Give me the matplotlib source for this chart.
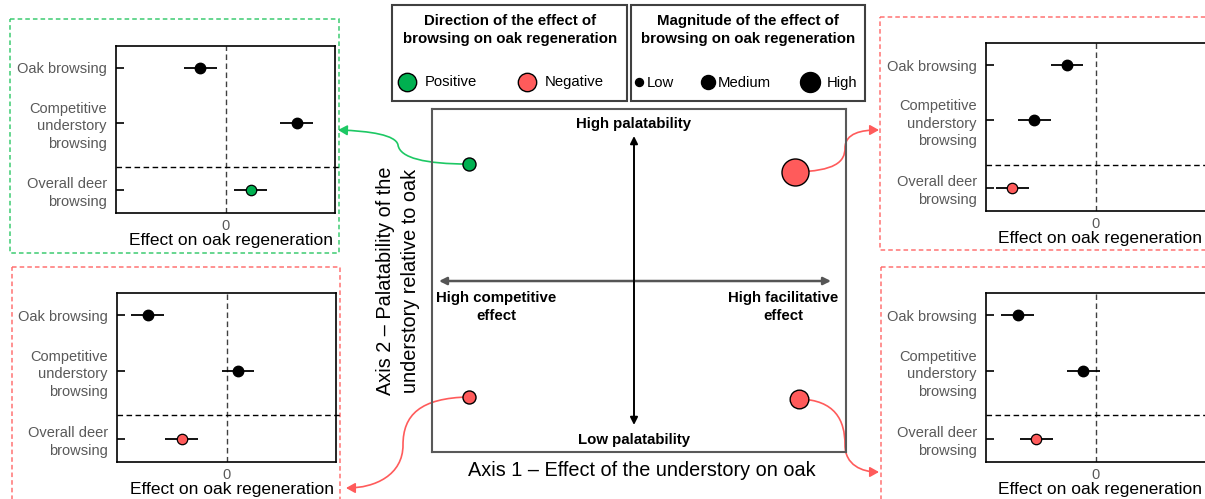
import matplotlib.pyplot as plt
from matplotlib.patches import Rectangle, FancyArrowPatch
from matplotlib.path import Path

plt.rcParams['font.family'] = ['Liberation Sans', 'DejaVu Sans']

# ---- data ----
row_labels = ['Oak browsing', 'Competitive\nunderstory\nbrowsing', 'Overall deer\nbrowsing']
ci_half = [0.15, 0.15, 0.15]

# effect on oak regeneration (x), one panel per quadrant
tl_effects = [-0.23, 0.65, 0.23]
tr_effects = [-0.26, -0.56, -0.76]
bl_effects = [-0.72, 0.105, -0.41]
br_effects = [-0.71, -0.11, -0.54]

# quadrant positions in the conceptual diagram
quad_x = [-0.825, 0.805, -0.825, 0.825]
quad_y = [0.688, 0.641, -0.682, -0.694]
quad_direction = ['Positive', 'Negative', 'Negative', 'Negative']
quad_magnitude = ['Low', 'High', 'Low', 'Medium']

directions = ['Positive', 'Negative']
magnitudes = ['Low', 'Medium', 'High']

# ---- styles ----
dir_colors = {'Positive': '#00B050', 'Negative': '#FF5B5B'}
line_colors = {'Positive': '#1DC864', 'Negative': '#FF5B5B'}
dash_colors = {'Positive': '#3DCC72', 'Negative': '#FF7373'}
center_sizes = {'Low': 88, 'Medium': 181, 'High': 378}
legend_sizes = {'Low': 33, 'Medium': 102, 'High': 207}
gray_txt = '#595959'

W, H = 1205, 499


def px_rect(x0, y0, x1, y1):
    return [x0 / W, 1 - y1 / H, (x1 - x0) / W, (y1 - y0) / H]


fig = plt.figure(figsize=(W / 100, H / 100), dpi=100)

overlay = fig.add_axes([0, 0, 1, 1], zorder=0)
overlay.set_xlim(0, W)
overlay.set_ylim(H, 0)
overlay.axis('off')

row_pos = [0, 1, 2.22]
sep_pos = 1.8


def forest_panel(rect, effects, color, xlim, label_x, sep_xmax):
    ax = fig.add_axes(px_rect(*rect), zorder=2)
    ax.set_facecolor('none')
    ax.errorbar(effects[:2], row_pos[:2], xerr=ci_half[:2], fmt='o', color='black',
                ms=7.5, elinewidth=1.3, capsize=0, zorder=3)
    ax.errorbar(effects[2:], row_pos[2:], xerr=ci_half[2:], fmt='o', mfc=color, mec='black',
                mew=0.9, ecolor='black', ms=7.5, elinewidth=1.3, capsize=0, zorder=3)
    ax.axvline(0, color='#404040', lw=1, ls=(0, (4, 2.5)), zorder=1)
    ax.axhline(sep_pos, xmax=sep_xmax, color='black', lw=1, ls=(0, (4, 2.5)),
               clip_on=False, zorder=1)
    ax.set_xlim(*xlim)
    ax.set_ylim(2.64, -0.4)
    ax.set_yticks(row_pos, labels=row_labels)
    ax.set_xticks([0], labels=['0'])
    ax.tick_params(axis='y', direction='in', length=6, width=1.2, pad=6.5,
                   labelcolor=gray_txt, labelsize=10.5)
    ax.tick_params(axis='x', length=0, pad=4, labelcolor=gray_txt, labelsize=10.5)
    for lbl in ax.get_yticklabels():
        lbl.set_linespacing(1.32)
    for s in ax.spines.values():
        s.set_linewidth(1.2)
        s.set_color('black')
    ax.set_xlabel('Effect on oak regeneration', fontsize=12.5)
    ax.xaxis.set_label_coords(label_x, -0.12)
    return ax


forest_panel((116, 46, 335, 213), tl_effects, dir_colors['Positive'], (-1, 1), 0.523, 1.018)
forest_panel((117, 293, 336, 462), bl_effects, dir_colors['Negative'], (-1, 1), 0.523, 1.023)
forest_panel((986, 43, 1208, 211), tr_effects, dir_colors['Negative'], (-1, 1.027), 0.514, 1.0)
forest_panel((986, 293, 1208, 462), br_effects, dir_colors['Negative'], (-1, 1.027), 0.514, 1.0)

# dashed frames around panels
frames = [((10, 19), 329, 234, 'Positive'), ((12, 267), 328, 245, 'Negative'),
          ((880, 17), 340, 233, 'Negative'), ((881, 267), 340, 245, 'Negative')]
for xy, w, h, d in frames:
    overlay.add_patch(Rectangle(xy, w, h, fill=False, ec=dash_colors[d], lw=1.1,
                                ls=(0, (3, 2))))

# ---- centre diagram ----
cax = fig.add_axes(px_rect(432, 109, 846, 452), zorder=3)
cax.set_facecolor('none')
cax.set_xlim(-1.01, 1.06)
cax.set_ylim(-1.006, 1.012)
cax.set_xticks([])
cax.set_yticks([])
for s in cax.spines.values():
    s.set_linewidth(1.5)
    s.set_color(gray_txt)

cax.annotate('', xy=(0.985, 0), xytext=(-0.975, 0),
             arrowprops=dict(arrowstyle='<|-|>', color='#555555', lw=1.8,
                             mutation_scale=11, shrinkA=0, shrinkB=0))
cax.annotate('', xy=(0, 0.853), xytext=(0, -0.847),
             arrowprops=dict(arrowstyle='<|-|>', color='black', lw=1.4,
                             mutation_scale=11, shrinkA=0, shrinkB=0))

for x, y, d, m in zip(quad_x, quad_y, quad_direction, quad_magnitude):
    cax.scatter(x, y, s=center_sizes[m], c=dir_colors[d], edgecolors='black',
                linewidths=1, zorder=5)

bold = dict(fontsize=10.8, fontweight='bold', ha='center', va='center')
cax.text(0, 0.925, 'High palatability', **bold)
cax.text(0, -0.935, 'Low palatability', **bold)
cax.text(-0.69, -0.155, 'High competitive\neffect', linespacing=1.35, **bold)
cax.text(0.745, -0.155, 'High facilitative\neffect', linespacing=1.35, **bold)

overlay.text(642, 471, 'Axis 1 \u2013 Effect of the understory on oak', fontsize=14.3,
             ha='center', va='center')
overlay.text(398, 281, 'Axis 2 \u2013 Palatability of the\nunderstory relative to oak',
             fontsize=14.3, ha='center', va='center', rotation=90, linespacing=1.4)

# ---- curved connectors from diagram points to panels ----
def to_px(x, y):
    dx, dy = cax.transData.transform((x, y))
    return dx, H - dy


C = Path.CURVE4
connectors = [
    (0, [(425, 164), (400, 158), (398, 145), (396, 135), (370, 131), (338, 130)]),
    (1, [(835, 171), (845, 162), (845, 148), (845, 133), (862, 130), (879, 130)]),
    (2, [(420, 398), (403, 415), (403, 445), (403, 475), (375, 488), (346, 488)]),
    (3, [(835, 400), (845, 420), (845, 445), (845, 465), (862, 472), (879, 472)]),
]
for i, pts in connectors:
    start = to_px(quad_x[i], quad_y[i])
    verts = [start] + pts
    codes = [Path.MOVETO] + [C] * 6
    overlay.add_patch(FancyArrowPatch(path=Path(verts, codes),
                                      arrowstyle='-|>,head_length=0.45,head_width=0.25',
                                      mutation_scale=12, color=line_colors[quad_direction[i]],
                                      lw=1.2))

# ---- legend boxes ----
overlay.add_patch(Rectangle((392, 5), 235, 96, fill=False, ec='#404040', lw=1.5))
overlay.add_patch(Rectangle((631, 5), 234, 96, fill=False, ec='#404040', lw=1.5))
overlay.text(510, 30, 'Direction of the effect of\nbrowsing on oak regeneration',
             fontsize=10.8, fontweight='bold', ha='center', va='center', linespacing=1.32)
overlay.text(748, 30, 'Magnitude of the effect of\nbrowsing on oak regeneration',
             fontsize=10.8, fontweight='bold', ha='center', va='center', linespacing=1.32)

dir_marker_x = [407, 527]
for x, d in zip(dir_marker_x, directions):
    overlay.scatter(x, 82, s=175, c=dir_colors[d], edgecolors='black', linewidths=1, zorder=4)
    overlay.text(x + 18, 82, d, fontsize=10.7, ha='left', va='center')

mag_marker_x = [639, 708, 810]
mag_text_x = [647, 718, 827]
for x, tx, m in zip(mag_marker_x, mag_text_x, magnitudes):
    overlay.scatter(x, 82, s=legend_sizes[m], c='black', zorder=4)
    overlay.text(tx, 83, m, fontsize=10.7, ha='left', va='center')

fig.savefig('out.png', dpi=100)
